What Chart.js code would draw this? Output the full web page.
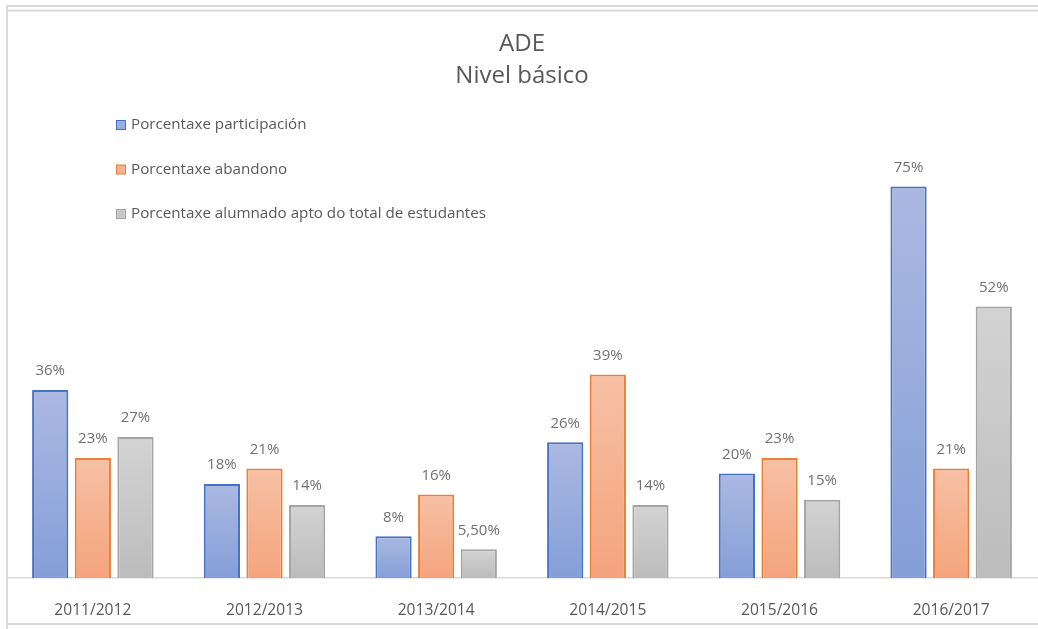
<!DOCTYPE html>
<html>
<head>
<meta charset="utf-8">
<script src="https://cdn.jsdelivr.net/npm/chart.js@4.4.1/dist/chart.umd.min.js"></script>
<style>
  html, body { margin: 0; padding: 0; background: #fff; }
  #wrap { width: 1038px; height: 629px; position: relative; }
</style>
</head>
<body>
<div id="wrap"><canvas id="adeChart"></canvas></div>
<script>
const CURSOS = ['2011/2012', '2012/2013', '2013/2014', '2014/2015', '2015/2016', '2016/2017']
const PARTICIPACION = [0.36, 0.18, 0.08, 0.26, 0.20, 0.75]
const ABANDONO = [0.23, 0.21, 0.16, 0.39, 0.23, 0.21]
const APTOS = [0.27, 0.14, 0.055, 0.14, 0.15, 0.52]

const TEXT = '#595959'
const FONT = "'Open Sans', 'Noto Sans', sans-serif"

// gradient per bar, lighter on top
function barGradient(top, bottom) {
  return function (context) {
    const chart = context.chart
    if (!chart.chartArea || context.raw == null) return bottom
    const y = chart.scales.y
    const y0 = y.getPixelForValue(context.raw)
    const y1 = y.getPixelForValue(0)
    const g = chart.ctx.createLinearGradient(0, y0, 0, y1)
    g.addColorStop(0, top)
    g.addColorStop(1, bottom)
    return g
  }
}

function pct(v) {
  const p = Math.round(v * 10000) / 100
  if (Number.isInteger(p)) return p + '%'
  return p.toFixed(2).replace('.', ',') + '%'
}

const LEGEND_SWATCH = [
  { fill: '#9aaede', border: '#4472c4' },
  { fill: '#f5b08f', border: '#ed7d31' },
  { fill: '#c8c8c8', border: '#a5a5a5' }
]

// value labels above bars, legend in the upper left, and the sheet frame
const extras = {
  id: 'extras',
  afterDatasetsDraw(chart) {
    const ctx = chart.ctx
    ctx.save()
    ctx.font = '15px ' + FONT
    ctx.fillStyle = '#707070'
    ctx.textAlign = 'center'
    ctx.textBaseline = 'middle'
    chart.data.datasets.forEach((ds, i) => {
      chart.getDatasetMeta(i).data.forEach((bar, j) => {
        ctx.fillText(pct(ds.data[j]), bar.x, bar.y - 19)
      })
    })

    ctx.textAlign = 'left'
    ctx.font = '15.2px ' + FONT
    chart.data.datasets.forEach((ds, i) => {
      const cy = 125 + i * 44.5
      ctx.fillStyle = LEGEND_SWATCH[i].fill
      ctx.strokeStyle = LEGEND_SWATCH[i].border
      ctx.lineWidth = 1
      ctx.fillRect(116.5, cy - 4.5, 9, 9)
      ctx.strokeRect(116.5, cy - 4.5, 9, 9)
      ctx.fillStyle = TEXT
      ctx.fillText(ds.label, 131, cy)
    })

    ctx.strokeStyle = '#d9d9d9'
    ctx.lineWidth = 2
    ctx.beginPath()
    ctx.moveTo(7, 629); ctx.lineTo(7, 6); ctx.lineTo(1038, 6)
    ctx.moveTo(8, 10.5); ctx.lineTo(1038, 10.5)
    ctx.moveTo(8, 624); ctx.lineTo(1038, 624)
    ctx.stroke()
    ctx.restore()
  }
}

const adeData = {
  labels: CURSOS,
  datasets: [{
    label: 'Porcentaxe participación',
    data: PARTICIPACION,
    backgroundColor: barGradient('#abb9e1', '#859ed8'),
    borderColor: '#4472c4',
    borderWidth: 2
  }, {
    label: 'Porcentaxe abandono',
    data: ABANDONO,
    backgroundColor: barGradient('#f7c0a4', '#f4a47d'),
    borderColor: '#ed7d31',
    borderWidth: 2
  }, {
    label: 'Porcentaxe alumnado apto do total de estudantes',
    data: APTOS,
    backgroundColor: barGradient('#d3d3d3', '#bcbcbc'),
    borderColor: '#a5a5a5',
    borderWidth: 2
  }]
}

const adeOptions = {
  responsive: true,
  maintainAspectRatio: false,
  animation: false,
  categoryPercentage: 0.745,
  barPercentage: 0.85,
  layout: { padding: { left: 7, right: 1, top: 0, bottom: 0 } },
  scales: {
    x: {
      grid: { display: false },
      border: { display: true, color: '#d9d9d9', width: 1.5 },
      ticks: { color: TEXT, font: { family: FONT, size: 15.6 }, padding: 15 },
      afterFit: scale => { scale.height = 51 }
    },
    y: {
      display: false,
      min: 0,
      max: 0.8
    }
  },
  plugins: {
    legend: { display: false },
    tooltip: { enabled: false },
    title: {
      display: true,
      text: ['ADE', 'Nivel básico'],
      color: TEXT,
      font: { family: FONT, size: 24, weight: 'normal', lineHeight: 1.3 },
      padding: { top: 29, bottom: 69 }
    }
  }
}

const adeChart = new Chart(document.getElementById('adeChart'), {
  type: 'bar',
  data: adeData,
  options: adeOptions,
  plugins: [extras]
})
</script>
</body>
</html>
